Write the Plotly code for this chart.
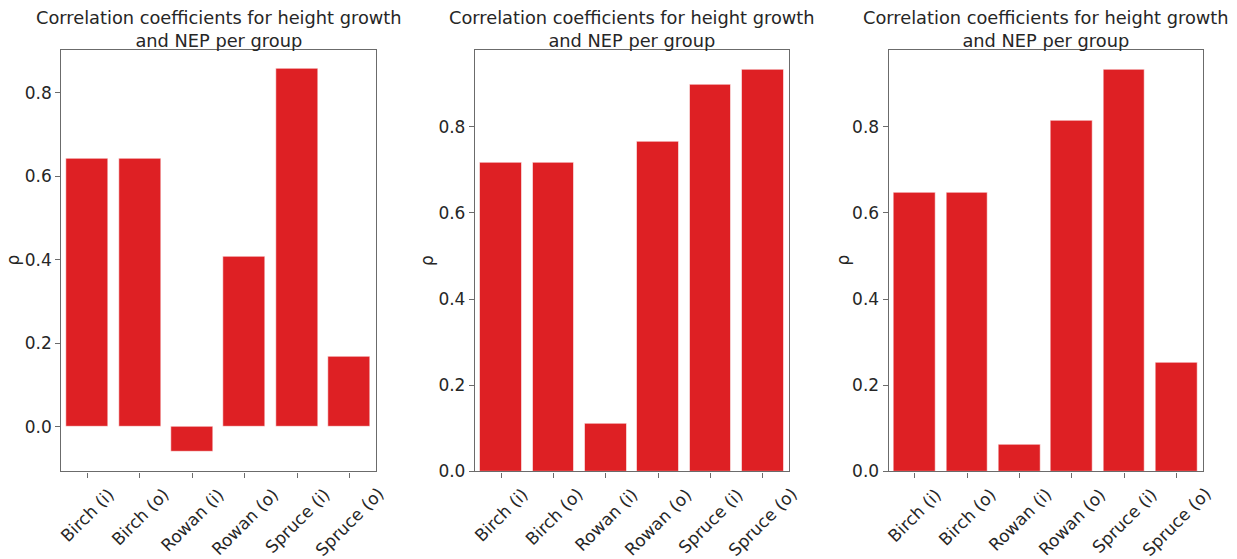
import plotly.graph_objects as go

# Groups (species, inside/outside) and Spearman correlation per panel
groups = ["Birch (i)", "Birch (o)", "Rowan (i)", "Rowan (o)", "Spruce (i)", "Spruce (o)"]
rho_panel1 = [0.643, 0.643, -0.061, 0.407, 0.857, 0.167]
rho_panel2 = [0.716, 0.716, 0.110, 0.764, 0.897, 0.932]
rho_panel3 = [0.646, 0.646, 0.062, 0.814, 0.932, 0.253]
y_ticks = [0.0, 0.2, 0.4, 0.6, 0.8]
title_text = "Correlation coefficients for height growth<br>and NEP per group"

panels = [rho_panel1, rho_panel2, rho_panel3]

W, H = 1237, 559
x_domains = [(61.3, 375.7), (475.0, 789.0), (888.7, 1202.7)]
y_top, y_bot = 50.7, 480.0
ylabel_x = [13.0, 426.5, 843.0]

BAR = "#de2024"
SPINE = "#6b6b6b"
TEXT = "#262626"
FONT = "DejaVu Sans"
TICK_SIZE = 17
TITLE_SIZE = 17.8


def auto_range(vals, margin=0.05):
    lo, hi = min(vals), max(vals)
    span = hi - lo if min(vals) < 0 else hi
    top = hi + margin * span
    bottom = lo - margin * span if lo < 0 else 0.0
    return [bottom, top]


fig = go.Figure()
annotations = []
layout_axes = {}

for i, vals in enumerate(panels):
    n = "" if i == 0 else str(i + 1)
    xa, ya = "x" + n, "y" + n
    fig.add_trace(go.Bar(
        x=list(range(len(groups))), y=vals, xaxis=xa, yaxis=ya,
        width=0.8, marker=dict(color=BAR, line=dict(color="rgba(255,255,255,0.55)", width=1)),
        showlegend=False, hoverinfo="x+y",
    ))
    x0, x1 = x_domains[i]
    layout_axes["xaxis" + n] = dict(
        domain=[x0 / W, x1 / W], anchor=ya, range=[-0.5, len(groups) - 0.5],
        tickvals=list(range(len(groups))), showticklabels=False,
        ticks="outside", ticklen=5, tickwidth=1.2, tickcolor=SPINE,
        showline=True, linecolor=SPINE, linewidth=1.3, mirror=True,
        showgrid=False, zeroline=False, fixedrange=True,
    )
    layout_axes["yaxis" + n] = dict(
        domain=[1 - y_bot / H, 1 - y_top / H], anchor=xa, range=auto_range(vals),
        tickvals=y_ticks, tickformat=".1f",
        ticks="outside", ticklen=5, tickwidth=1.2, tickcolor=SPINE,
        tickfont=dict(family=FONT, size=TICK_SIZE, color=TEXT),
        showline=True, linecolor=SPINE, linewidth=1.3, mirror=True,
        showgrid=False, zeroline=False, fixedrange=True,
    )
    # rotated category labels under each bar
    for j, g in enumerate(groups):
        annotations.append(dict(
            x=j, y=0, xref=xa, yref=ya + " domain", text=g, textangle=-45,
            xanchor="center", yanchor="top", yshift=-10, showarrow=False,
            font=dict(family=FONT, size=TICK_SIZE, color=TEXT),
        ))
    # panel title
    annotations.append(dict(
        x=(x0 + x1) / 2 / W, y=1 - (y_top + 3) / H, xref="paper", yref="paper",
        text=title_text, xanchor="center", yanchor="bottom", showarrow=False,
        font=dict(family=FONT, size=TITLE_SIZE, color=TEXT),
    ))
    # y-axis label
    annotations.append(dict(
        x=ylabel_x[i] / W, y=1 - (y_top + y_bot) / 2 / H, xref="paper", yref="paper",
        text="ρ", textangle=-90, xanchor="center", yanchor="middle", showarrow=False,
        font=dict(family=FONT, size=TICK_SIZE, color=TEXT),
    ))

fig.update_layout(
    width=W, height=H, margin=dict(l=0, r=0, t=0, b=0),
    paper_bgcolor="white", plot_bgcolor="white",
    annotations=annotations, bargap=0, **layout_axes,
)

fig.write_html("out.html", config={"displayModeBar": False})
